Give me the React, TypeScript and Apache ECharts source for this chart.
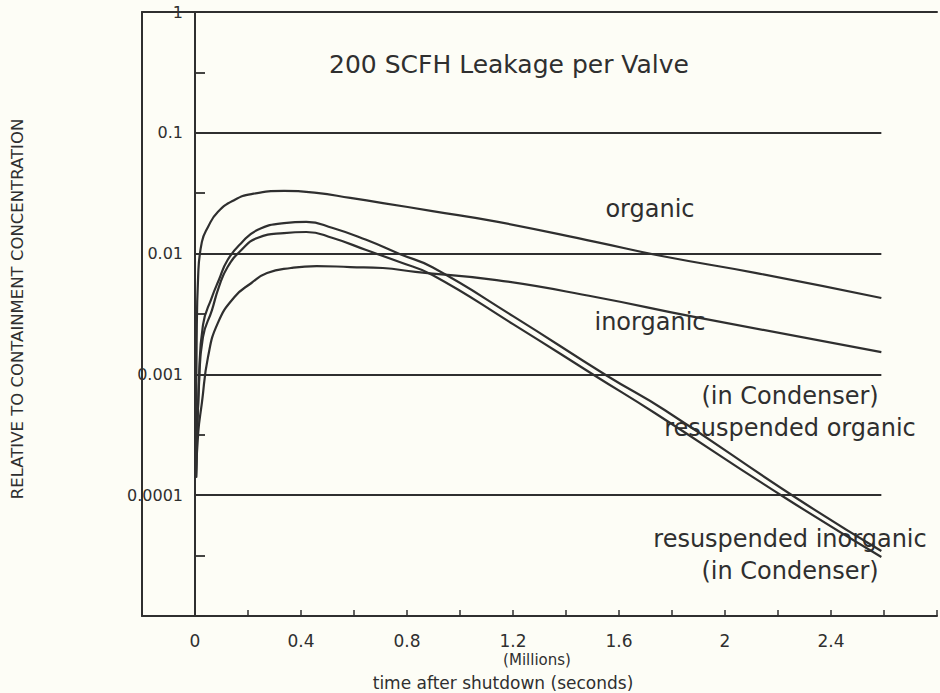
import React, { useEffect, useRef } from "react";
import * as echarts from "echarts";

// time after shutdown (millions of seconds), concentration relative to containment
const organic: [number, number][] = [
  [0.002, 0.00014], [0.006, 0.0017], [0.012, 0.0066], [0.026, 0.0125], [0.049, 0.0166],
  [0.086, 0.0221], [0.149, 0.0278], [0.213, 0.0311], [0.336, 0.033], [0.459, 0.0318],
  [0.586, 0.0289], [0.709, 0.0262], [0.896, 0.0225], [1.138, 0.0184], [1.511, 0.0125],
  [1.761, 0.00955], [2.119, 0.0069], [2.59, 0.00429],
];
const inorganic: [number, number][] = [
  [0.004, 0.00014], [0.012, 0.000327], [0.026, 0.00058], [0.049, 0.00139], [0.086, 0.00266],
  [0.149, 0.00437], [0.213, 0.00571], [0.272, 0.0069], [0.362, 0.0076], [0.459, 0.00789],
  [0.586, 0.00774], [0.709, 0.0076], [0.832, 0.00705], [1.138, 0.00604], [1.511, 0.00437],
  [1.884, 0.00299], [2.59, 0.00153],
];
const resuspendedOrganic: [number, number][] = [
  [0.004, 0.00014], [0.015, 0.0009], [0.03, 0.00256], [0.064, 0.00437], [0.09, 0.00604],
  [0.123, 0.00885], [0.175, 0.01225], [0.235, 0.01567], [0.336, 0.0179], [0.42, 0.0183],
  [0.52, 0.0163], [0.646, 0.013], [0.772, 0.00993], [0.896, 0.0077], [1.2, 0.00304],
  [1.556, 0.00097], [1.772, 0.000507], [2.269, 0.0000948], [2.59, 0.0000345],
];
const resuspendedInorganic: [number, number][] = [
  [0.004, 0.00014], [0.015, 0.00082], [0.03, 0.00204], [0.064, 0.00341], [0.09, 0.00529],
  [0.123, 0.00774], [0.175, 0.0107], [0.235, 0.01346], [0.336, 0.0148], [0.42, 0.0151],
  [0.52, 0.01346], [0.646, 0.0107], [0.772, 0.00851], [0.896, 0.00665], [1.2, 0.00261],
  [1.511, 0.00097], [1.735, 0.000479], [2.228, 0.0000948], [2.59, 0.0000308],
];

const gridValues = [0.1, 0.01, 0.001, 0.0001];
const gridEnd = 2.59;
const yTickLabels = ["1", "0.1", "0.01", "0.001", "0.0001"];
const xTickLabels = ["0", "0.4", "0.8", "1.2", "1.6", "2", "2.4"];

const titleText = "200 SCFH Leakage per Valve";
const yName = "RELATIVE TO CONTAINMENT CONCENTRATION";
const xUnit = "(Millions)";
const xName = "time after shutdown (seconds)";
const curveLabels = [
  "organic",
  "inorganic",
  "(in Condenser)",
  "resuspended organic",
  "resuspended inorganic",
  "(in Condenser)",
];

const INK = "#2f2f2f";
const FONT = "DejaVu Sans";

export default function App() {
  const ref = useRef<HTMLDivElement>(null);

  useEffect(() => {
    if (!ref.current) return;
    const chart = echarts.init(ref.current, undefined, { renderer: "svg" });

    const lineSeries = (name: string, data: [number, number][], extra: any = {}) => ({
      type: "line",
      name,
      data,
      xAxisIndex: 0,
      yAxisIndex: 0,
      showSymbol: false,
      symbol: "none",
      smooth: 0.5,
      silent: true,
      lineStyle: { color: INK, width: 2.2 },
      ...extra,
    });

    const txt = (text: string, x: number, y: number, size: number, extra: any = {}) => ({
      type: "text",
      x,
      y,
      silent: true,
      ...extra,
      style: {
        text,
        fill: INK,
        font: `${size}px "${FONT}"`,
        fontSize: size,
        fontFamily: FONT,
        textAlign: "center",
        align: "center",
        textVerticalAlign: "middle",
        verticalAlign: "middle",
      },
    });

    const labelPos: [number, number][] = [
      [650, 209],
      [650, 322],
      [790, 396],
      [790, 428],
      [790, 539],
      [790, 571],
    ];

    chart.setOption({
      animation: false,
      backgroundColor: "#fdfdf6",
      grid: { left: 142, top: 12, width: 803, height: 604, containLabel: false },
      xAxis: [
        {
          type: "value",
          min: -0.2,
          max: 2.8,
          interval: 0.2,
          position: "bottom",
          axisLine: { show: true, onZero: false, lineStyle: { color: INK, width: 2 } },
          axisTick: { show: true, inside: true, length: 6, lineStyle: { color: INK, width: 1.5 } },
          axisLabel: {
            show: true,
            margin: 16,
            color: INK,
            fontFamily: FONT,
            fontSize: 17,
            formatter: (v: number) => {
              const r = Math.round(v * 10) / 10;
              const hit = xTickLabels.find((l) => Number(l) === r);
              return hit ?? "";
            },
          },
          splitLine: { show: false },
        },
        {
          type: "value",
          min: -0.2,
          max: 2.8,
          interval: 0.2,
          position: "top",
          axisLine: { show: true, onZero: false, lineStyle: { color: INK, width: 2 } },
          axisTick: { show: false },
          axisLabel: { show: false },
          splitLine: { show: false },
        },
      ],
      yAxis: [
        {
          type: "log",
          logBase: 10,
          min: 0.00001,
          max: 1,
          position: "left",
          axisLine: { show: true, onZero: false, lineStyle: { color: INK, width: 2 } },
          axisTick: { show: false },
          axisLabel: {
            show: true,
            inside: true,
            align: "right",
            margin: 41,
            color: INK,
            fontFamily: FONT,
            fontSize: 16,
            showMinLabel: true,
            showMaxLabel: true,
            formatter: (v: number) => {
              const e = Math.round(Math.log10(v));
              const idx = -e;
              return idx >= 0 && idx < yTickLabels.length ? yTickLabels[idx] : "";
            },
          },
          splitLine: { show: false },
        },
        {
          type: "value",
          min: -5,
          max: 0,
          interval: 0.5,
          position: "left",
          axisLine: { show: false },
          axisTick: { show: true, inside: true, length: 10, lineStyle: { color: INK, width: 1.8 } },
          axisLabel: { show: false },
          splitLine: { show: false },
        },
      ],
      series: [
        lineSeries("organic", organic, {
          markLine: {
            silent: true,
            symbol: ["none", "none"],
            animation: false,
            label: { show: false },
            emphasis: { disabled: true },
            lineStyle: { color: INK, width: 2, type: "solid" },
            data: [
              { xAxis: 0 },
              ...gridValues.map((v) => [{ coord: [0, v] }, { coord: [gridEnd, v] }]),
            ],
          },
        }),
        lineSeries("inorganic", inorganic),
        lineSeries("resuspended organic", resuspendedOrganic),
        lineSeries("resuspended inorganic", resuspendedInorganic),
      ],
      graphic: [
        txt(titleText, 509, 64, 25),
        txt(yName, 17, 309, 16.5, { rotation: Math.PI / 2 }),
        txt(xUnit, 537, 660, 15),
        txt(xName, 503, 683, 17),
        ...curveLabels.map((l, i) => txt(l, labelPos[i][0], labelPos[i][1], 24)),
      ],
    });

    return () => chart.dispose();
  }, []);

  return (
    <div
      ref={ref}
      style={{ position: "fixed", left: 0, top: 0, width: 940, height: 693, overflow: "hidden" }}
    />
  );
}
